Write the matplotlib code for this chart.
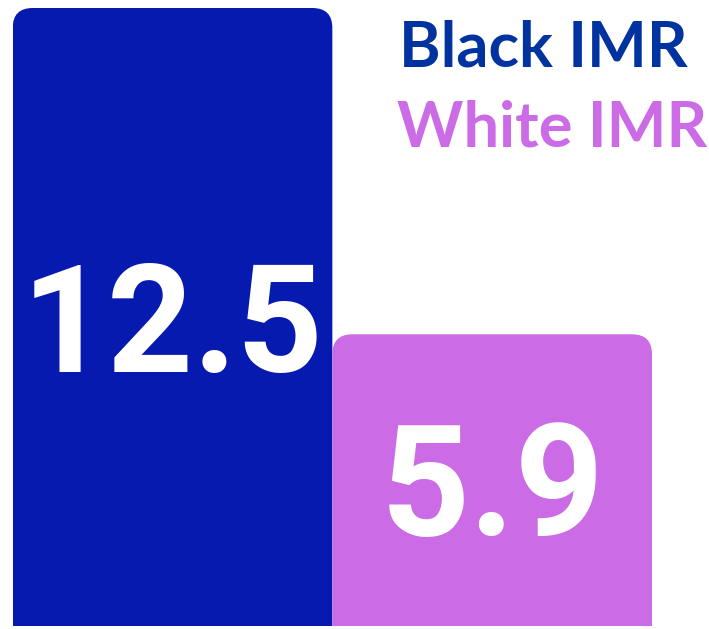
import matplotlib
matplotlib.use("Agg")
import matplotlib.pyplot as plt
from matplotlib.patches import FancyBboxPatch

categories = ["Black IMR", "White IMR"]
values = [12.5, 5.9]
labels = ["12.5", "5.9"]
bar_colors = ["#061ab0", "#cb6ce6"]
legend_colors = ["#0033a0", "#cb6ce6"]
label_sizes = [108, 112]

W, H = 709, 629
fig = plt.figure(figsize=(W / 100, H / 100), dpi=100)
left_px, right_px, top_px, bottom_px = 12.7, 652, 8, 626
ax = fig.add_axes([left_px / W, (H - bottom_px) / H,
                   (right_px - left_px) / W, (bottom_px - top_px) / H])
ax.set_xlim(0, len(values))
ax.set_ylim(0, max(values))
ax.axis("off")

xunit = (right_px - left_px) / len(values)
yunit = (bottom_px - top_px) / max(values)
r_px = 20
cap_px = 110
for i, (v, c) in enumerate(zip(values, bar_colors)):
    p = FancyBboxPatch((i, -2), 1, v + 2,
                       boxstyle=f"round,pad=0,rounding_size={r_px / xunit}",
                       mutation_aspect=xunit / yunit,
                       fc=c, ec="none", clip_on=True)
    ax.add_patch(p)
    ax.text(i + 0.5, v / 2 - (cap_px / 2) / yunit, labels[i], color="white",
            fontsize=label_sizes[i], fontweight="bold",
            family=["Roboto", "DejaVu Sans"], ha="center", va="baseline")

fig.text(399 / W, 1 - 66.7 / H, categories[0], color=legend_colors[0],
         fontsize=45.5, fontweight="bold", family=["Lato", "DejaVu Sans"],
         ha="left", va="baseline")
fig.text(397 / W, 1 - 147 / H, categories[1], color=legend_colors[1],
         fontsize=45.5, fontweight="bold", family=["Lato", "DejaVu Sans"],
         ha="left", va="baseline")

fig.savefig("out.png", dpi=100)
